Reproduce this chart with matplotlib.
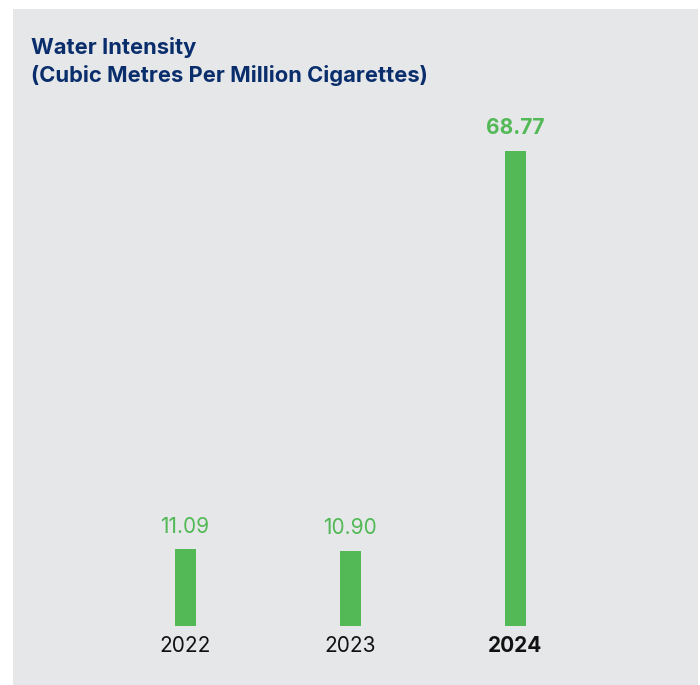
import matplotlib.pyplot as plt
from matplotlib.patches import Rectangle

COLOR_BG = "#E6E7E9"
COLOR_TITLE = "#0A2E6C"
COLOR_BAR = "#52B956"
COLOR_TEXT = "#111111"

anos = ["2022", "2023", "2024"]
valores = [11.09, 10.90, 68.77]
rotulos = ["11.09", "10.90", "68.77"]
destaque = [False, False, True]

W, H = 700, 685
fig = plt.figure(figsize=(W / 100, H / 100), dpi=100, facecolor="white")
plt.rcParams['font.family'] = ['Inter', 'DejaVu Sans']

# painel cinza
fig.patches.append(Rectangle((13 / W, 0), 685 / W, (H - 9) / H, transform=fig.transFigure,
                             facecolor=COLOR_BG, edgecolor="none", zorder=-10))

fig.text(31 / W, 1 - 47 / H, "Water Intensity", fontsize=15.8, fontweight="bold",
         color=COLOR_TITLE, va="center", ha="left")
fig.text(31 / W, 1 - 75 / H, "(Cubic Metres Per Million Cigarettes)", fontsize=15.8,
         fontweight="bold", color=COLOR_TITLE, va="center", ha="left")

# eixo: base das barras em y=626px, topo em 150.7px para o maior valor
ax_bottom = (H - 626) / H
ax_top = (H - 150.7) / H
ax = fig.add_axes([13 / W, ax_bottom, 685 / W, ax_top - ax_bottom], zorder=5)
ax.set_facecolor("none")
ax.set_xlim((13 - 185) / 165, (698 - 185) / 165)
ax.set_ylim(0, max(valores))
ax.axis("off")

x = list(range(len(anos)))
ax.bar(x, valores, width=21 / 165, color=COLOR_BAR)

for xi, v, rot, d in zip(x, valores, rotulos, destaque):
    ax.annotate(rot, (xi, v), xytext=(0, 9), textcoords="offset points",
                ha="center", va="bottom", fontsize=15, color=COLOR_BAR,
                fontweight="bold" if d else "normal", annotation_clip=False)
    ax.annotate(anos[xi], (xi, 0), xytext=(0, -7), textcoords="offset points",
                ha="center", va="top", fontsize=15, color=COLOR_TEXT,
                fontweight="bold" if d else "normal", annotation_clip=False)

fig.savefig("out.png", dpi=100, facecolor="white")
